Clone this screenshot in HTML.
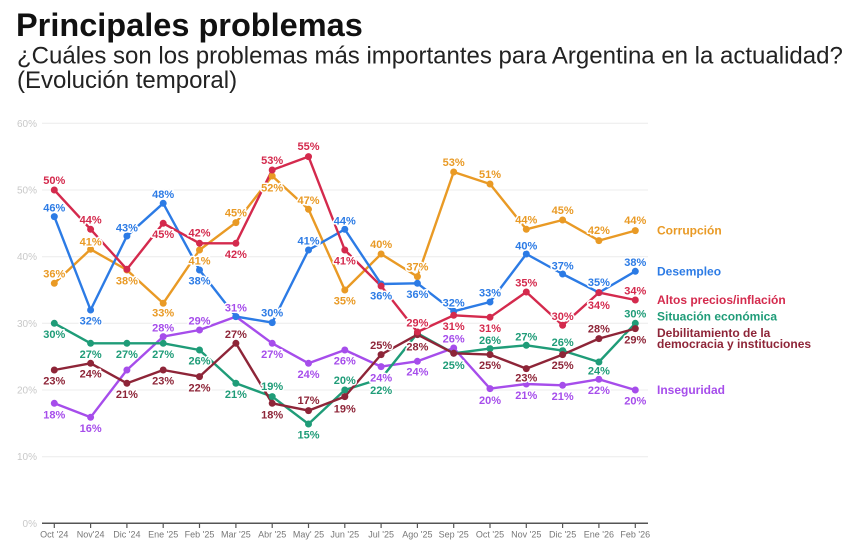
<!DOCTYPE html>
<html><head><meta charset="utf-8"><style>
html,body{margin:0;padding:0;background:#fff;}
body{width:862px;height:549px;overflow:hidden;position:relative;font-family:"Liberation Sans",sans-serif;}
svg{position:absolute;left:0;top:0;}
</style></head><body>
<svg width="862" height="549" viewBox="0 0 862 549" xmlns="http://www.w3.org/2000/svg" font-family="Liberation Sans, sans-serif">
<text x="16" y="36" font-size="32.5" font-weight="bold" fill="#111">Principales problemas</text>
<text x="17" y="63.5" font-size="24" fill="#222">¿Cuáles son los problemas más importantes para Argentina en la actualidad?</text>
<text x="17" y="88" font-size="24" fill="#222">(Evolución temporal)</text>

<g stroke="#ececec" stroke-width="1">
<line x1="42" x2="648" y1="123.3" y2="123.3"/>
<line x1="42" x2="648" y1="190" y2="190"/>
<line x1="42" x2="648" y1="256.7" y2="256.7"/>
<line x1="42" x2="648" y1="323.3" y2="323.3"/>
<line x1="42" x2="648" y1="390" y2="390"/>
<line x1="42" x2="648" y1="456.7" y2="456.7"/>
</g>
<g font-size="10" fill="#c8c8c8" text-anchor="end">
<text x="37" y="127">60%</text>
<text x="37" y="193.5">50%</text>
<text x="37" y="260.2">40%</text>
<text x="37" y="327">30%</text>
<text x="37" y="393.5">20%</text>
<text x="37" y="460.2">10%</text>
<text x="37" y="527">0%</text>
</g>
<line x1="42" x2="648" y1="523.3" y2="523.3" stroke="#555" stroke-width="1.5"/>
<g stroke="#555" stroke-width="1.2">
<line x1="54.3" x2="54.3" y1="523" y2="528"/><line x1="90.6" x2="90.6" y1="523" y2="528"/><line x1="126.9" x2="126.9" y1="523" y2="528"/><line x1="163.2" x2="163.2" y1="523" y2="528"/><line x1="199.5" x2="199.5" y1="523" y2="528"/><line x1="235.9" x2="235.9" y1="523" y2="528"/><line x1="272.2" x2="272.2" y1="523" y2="528"/><line x1="308.5" x2="308.5" y1="523" y2="528"/><line x1="344.8" x2="344.8" y1="523" y2="528"/><line x1="381.1" x2="381.1" y1="523" y2="528"/><line x1="417.4" x2="417.4" y1="523" y2="528"/><line x1="453.7" x2="453.7" y1="523" y2="528"/><line x1="490" x2="490" y1="523" y2="528"/><line x1="526.3" x2="526.3" y1="523" y2="528"/><line x1="562.6" x2="562.6" y1="523" y2="528"/><line x1="598.9" x2="598.9" y1="523" y2="528"/><line x1="635.3" x2="635.3" y1="523" y2="528"/>
</g>
<g font-size="9" fill="#777" text-anchor="middle">
<text x="54.3" y="537.5">Oct '24</text><text x="90.6" y="537.5">Nov'24</text><text x="126.9" y="537.5">Dic '24</text><text x="163.2" y="537.5">Ene '25</text><text x="199.5" y="537.5">Feb '25</text><text x="235.9" y="537.5">Mar '25</text><text x="272.2" y="537.5">Abr '25</text><text x="308.5" y="537.5">May' 25</text><text x="344.8" y="537.5">Jun '25</text><text x="381.1" y="537.5">Jul '25</text><text x="417.4" y="537.5">Ago '25</text><text x="453.7" y="537.5">Sep '25</text><text x="490" y="537.5">Oct '25</text><text x="526.3" y="537.5">Nov '25</text><text x="562.6" y="537.5">Dic '25</text><text x="598.9" y="537.5">Ene '26</text><text x="635.3" y="537.5">Feb '26</text>
</g>

<g fill="none" stroke-width="2.4" stroke-linejoin="round" stroke-linecap="round">
<polyline stroke="#A64DEB" points="54.3,403.3 90.6,417.3 126.9,370 163.2,336.6 199.5,330 235.9,316.6 272.2,343.3 308.5,363.3 344.8,350 381.1,366.6 417.4,361.3 453.7,348 490,388.6 526.3,384 562.6,385.3 598.9,379.3 635.3,390"/>
<polyline stroke="#1F9C78" points="54.3,323.3 90.6,343.3 126.9,343.3 163.2,343.3 199.5,350 235.9,383.3 272.2,396.6 308.5,424 344.8,390 381.1,378.6 417.4,333.3 453.7,353.3 490,348.6 526.3,345.3 562.6,350.6 598.9,362 635.3,323.3"/>
<polyline stroke="#8E2538" points="54.3,370 90.6,363.3 126.9,383.3 163.2,370 199.5,376.6 235.9,343.3 272.2,403.3 308.5,410.6 344.8,396.6 381.1,354.6 417.4,334.6 453.7,353.3 490,354.6 526.3,368.6 562.6,354.6 598.9,338.6 635.3,328.6"/>
<polyline stroke="#E99A25" points="54.3,283.3 90.6,249.3 126.9,270 163.2,303.3 199.5,250 235.9,222.6 272.2,176 308.5,209.3 344.8,290 381.1,254 417.4,276.6 453.7,172 490,184 526.3,229.3 562.6,220 598.9,240.6 635.3,230.6"/>
<polyline stroke="#2C7BE5" points="54.3,216.6 90.6,310 126.9,236 163.2,203.3 199.5,270 235.9,316.6 272.2,322.6 308.5,250 344.8,229.3 381.1,284 417.4,283.3 453.7,311.3 490,302 526.3,254 562.6,274 598.9,292.6 635.3,271.3"/>
<polyline stroke="#D42A4D" points="54.3,190 90.6,229.3 126.9,269.3 163.2,223.3 199.5,243.3 235.9,243.3 272.2,170 308.5,156.6 344.8,250 381.1,286 417.4,332 453.7,315.3 490,317.3 526.3,292 562.6,325.3 598.9,292.6 635.3,300"/>
</g>

<g fill="#A64DEB"><circle cx="54.3" cy="403.3" r="3.5"/><circle cx="90.6" cy="417.3" r="3.5"/><circle cx="126.9" cy="370" r="3.5"/><circle cx="163.2" cy="336.6" r="3.5"/><circle cx="199.5" cy="330" r="3.5"/><circle cx="235.9" cy="316.6" r="3.5"/><circle cx="272.2" cy="343.3" r="3.5"/><circle cx="308.5" cy="363.3" r="3.5"/><circle cx="344.8" cy="350" r="3.5"/><circle cx="381.1" cy="366.6" r="3.5"/><circle cx="417.4" cy="361.3" r="3.5"/><circle cx="453.7" cy="348" r="3.5"/><circle cx="490" cy="388.6" r="3.5"/><circle cx="526.3" cy="384" r="3.5"/><circle cx="562.6" cy="385.3" r="3.5"/><circle cx="598.9" cy="379.3" r="3.5"/><circle cx="635.3" cy="390" r="3.5"/></g>
<g fill="#1F9C78"><circle cx="54.3" cy="323.3" r="3.5"/><circle cx="90.6" cy="343.3" r="3.5"/><circle cx="126.9" cy="343.3" r="3.5"/><circle cx="163.2" cy="343.3" r="3.5"/><circle cx="199.5" cy="350" r="3.5"/><circle cx="235.9" cy="383.3" r="3.5"/><circle cx="272.2" cy="396.6" r="3.5"/><circle cx="308.5" cy="424" r="3.5"/><circle cx="344.8" cy="390" r="3.5"/><circle cx="381.1" cy="378.6" r="3.5"/><circle cx="417.4" cy="333.3" r="3.5"/><circle cx="453.7" cy="353.3" r="3.5"/><circle cx="490" cy="348.6" r="3.5"/><circle cx="526.3" cy="345.3" r="3.5"/><circle cx="562.6" cy="350.6" r="3.5"/><circle cx="598.9" cy="362" r="3.5"/><circle cx="635.3" cy="323.3" r="3.5"/></g>
<g fill="#8E2538"><circle cx="54.3" cy="370" r="3.5"/><circle cx="90.6" cy="363.3" r="3.5"/><circle cx="126.9" cy="383.3" r="3.5"/><circle cx="163.2" cy="370" r="3.5"/><circle cx="199.5" cy="376.6" r="3.5"/><circle cx="235.9" cy="343.3" r="3.5"/><circle cx="272.2" cy="403.3" r="3.5"/><circle cx="308.5" cy="410.6" r="3.5"/><circle cx="344.8" cy="396.6" r="3.5"/><circle cx="381.1" cy="354.6" r="3.5"/><circle cx="417.4" cy="334.6" r="3.5"/><circle cx="453.7" cy="353.3" r="3.5"/><circle cx="490" cy="354.6" r="3.5"/><circle cx="526.3" cy="368.6" r="3.5"/><circle cx="562.6" cy="354.6" r="3.5"/><circle cx="598.9" cy="338.6" r="3.5"/><circle cx="635.3" cy="328.6" r="3.5"/></g>
<g fill="#E99A25"><circle cx="54.3" cy="283.3" r="3.5"/><circle cx="90.6" cy="249.3" r="3.5"/><circle cx="126.9" cy="270" r="3.5"/><circle cx="163.2" cy="303.3" r="3.5"/><circle cx="199.5" cy="250" r="3.5"/><circle cx="235.9" cy="222.6" r="3.5"/><circle cx="272.2" cy="176" r="3.5"/><circle cx="308.5" cy="209.3" r="3.5"/><circle cx="344.8" cy="290" r="3.5"/><circle cx="381.1" cy="254" r="3.5"/><circle cx="417.4" cy="276.6" r="3.5"/><circle cx="453.7" cy="172" r="3.5"/><circle cx="490" cy="184" r="3.5"/><circle cx="526.3" cy="229.3" r="3.5"/><circle cx="562.6" cy="220" r="3.5"/><circle cx="598.9" cy="240.6" r="3.5"/><circle cx="635.3" cy="230.6" r="3.5"/></g>
<g fill="#2C7BE5"><circle cx="54.3" cy="216.6" r="3.5"/><circle cx="90.6" cy="310" r="3.5"/><circle cx="126.9" cy="236" r="3.5"/><circle cx="163.2" cy="203.3" r="3.5"/><circle cx="199.5" cy="270" r="3.5"/><circle cx="235.9" cy="316.6" r="3.5"/><circle cx="272.2" cy="322.6" r="3.5"/><circle cx="308.5" cy="250" r="3.5"/><circle cx="344.8" cy="229.3" r="3.5"/><circle cx="381.1" cy="284" r="3.5"/><circle cx="417.4" cy="283.3" r="3.5"/><circle cx="453.7" cy="311.3" r="3.5"/><circle cx="490" cy="302" r="3.5"/><circle cx="526.3" cy="254" r="3.5"/><circle cx="562.6" cy="274" r="3.5"/><circle cx="598.9" cy="292.6" r="3.5"/><circle cx="635.3" cy="271.3" r="3.5"/></g>
<g fill="#D42A4D"><circle cx="54.3" cy="190" r="3.5"/><circle cx="90.6" cy="229.3" r="3.5"/><circle cx="126.9" cy="269.3" r="3.5"/><circle cx="163.2" cy="223.3" r="3.5"/><circle cx="199.5" cy="243.3" r="3.5"/><circle cx="235.9" cy="243.3" r="3.5"/><circle cx="272.2" cy="170" r="3.5"/><circle cx="308.5" cy="156.6" r="3.5"/><circle cx="344.8" cy="250" r="3.5"/><circle cx="381.1" cy="286" r="3.5"/><circle cx="417.4" cy="332" r="3.5"/><circle cx="453.7" cy="315.3" r="3.5"/><circle cx="490" cy="317.3" r="3.5"/><circle cx="526.3" cy="292" r="3.5"/><circle cx="562.6" cy="325.3" r="3.5"/><circle cx="598.9" cy="292.6" r="3.5"/><circle cx="635.3" cy="300" r="3.5"/></g>

<g font-size="11" font-weight="bold" text-anchor="middle" stroke="#fff" stroke-width="3" paint-order="stroke" stroke-linejoin="round">
<g fill="#E99A25">
<text x="54.3" y="277.3">36%</text><text x="90.6" y="245.7">41%</text><text x="126.9" y="284.7">38%</text><text x="163.2" y="316.7">33%</text><text x="199.5" y="264.7">41%</text><text x="235.9" y="216.7">45%</text><text x="272.2" y="191.3">52%</text><text x="308.5" y="204">47%</text><text x="344.8" y="304.7">35%</text><text x="381.1" y="248">40%</text><text x="417.4" y="270.7">37%</text><text x="453.7" y="166">53%</text><text x="490" y="178">51%</text><text x="526.3" y="223.3">44%</text><text x="562.6" y="214">45%</text><text x="598.9" y="234">42%</text><text x="635.3" y="224">44%</text>
</g>
<g fill="#2C7BE5">
<text x="54.3" y="211.7">46%</text><text x="90.6" y="324.7">32%</text><text x="126.9" y="231.3">43%</text><text x="163.2" y="198">48%</text><text x="199.5" y="284.7">38%</text><text x="272.2" y="316.7">30%</text><text x="308.5" y="244.7">41%</text><text x="344.8" y="224.7">44%</text><text x="381.1" y="299.3">36%</text><text x="417.4" y="298">36%</text><text x="453.7" y="306.7">32%</text><text x="490" y="296.7">33%</text><text x="526.3" y="249.3">40%</text><text x="562.6" y="269.3">37%</text><text x="598.9" y="286">35%</text><text x="635.3" y="266">38%</text>
</g>
<g fill="#D42A4D">
<text x="54.3" y="184">50%</text><text x="90.6" y="223.3">44%</text><text x="163.2" y="238">45%</text><text x="199.5" y="236.7">42%</text><text x="235.9" y="258">42%</text><text x="272.2" y="164">53%</text><text x="308.5" y="150">55%</text><text x="344.8" y="264.7">41%</text><text x="417.4" y="326.7">29%</text><text x="453.7" y="330">31%</text><text x="490" y="332">31%</text><text x="526.3" y="286.7">35%</text><text x="562.6" y="320">30%</text><text x="598.9" y="309">34%</text><text x="635.3" y="294.7">34%</text>
</g>
<g fill="#1F9C78">
<text x="54.3" y="338">30%</text><text x="90.6" y="358">27%</text><text x="126.9" y="358">27%</text><text x="163.2" y="358">27%</text><text x="199.5" y="364.7">26%</text><text x="235.9" y="398">21%</text><text x="272.2" y="390">19%</text><text x="308.5" y="438.7">15%</text><text x="344.8" y="384">20%</text><text x="381.1" y="394">22%</text><text x="453.7" y="369">25%</text><text x="490" y="344">26%</text><text x="526.3" y="340.7">27%</text><text x="562.6" y="346">26%</text><text x="598.9" y="374.7">24%</text><text x="635.3" y="317.3">30%</text>
</g>
<g fill="#8E2538">
<text x="54.3" y="384.7">23%</text><text x="90.6" y="377.3">24%</text><text x="126.9" y="398">21%</text><text x="163.2" y="384.7">23%</text><text x="199.5" y="391.3">22%</text><text x="235.9" y="338">27%</text><text x="272.2" y="418.7">18%</text><text x="308.5" y="404">17%</text><text x="344.8" y="412.3">19%</text><text x="381.1" y="349">25%</text><text x="417.4" y="350.7">28%</text><text x="490" y="369">25%</text><text x="526.3" y="381.3">23%</text><text x="562.6" y="369">25%</text><text x="598.9" y="332.3">28%</text><text x="635.3" y="343.3">29%</text>
</g>
<g fill="#A64DEB">
<text x="54.3" y="418.7">18%</text><text x="90.6" y="432">16%</text><text x="163.2" y="331.3">28%</text><text x="199.5" y="324.7">29%</text><text x="235.9" y="311.3">31%</text><text x="272.2" y="358">27%</text><text x="308.5" y="378">24%</text><text x="344.8" y="364.7">26%</text><text x="381.1" y="381.3">24%</text><text x="417.4" y="375.7">24%</text><text x="453.7" y="342.3">26%</text><text x="490" y="404">20%</text><text x="526.3" y="399">21%</text><text x="562.6" y="400">21%</text><text x="598.9" y="394">22%</text><text x="635.3" y="404.7">20%</text>
</g>
</g>

<g font-size="12" font-weight="bold">
<text x="657" y="234.5" fill="#E99A25">Corrupción</text>
<text x="657" y="275.5" fill="#2C7BE5">Desempleo</text>
<text x="657" y="303.8" fill="#D42A4D">Altos precios/inflación</text>
<text x="657" y="320.5" fill="#1F9C78">Situación económica</text>
<text x="657" y="337" fill="#8E2538">Debilitamiento de la</text>
<text x="657" y="347.8" fill="#8E2538">democracia y instituciones</text>
<text x="657" y="393.8" fill="#A64DEB">Inseguridad</text>
</g>
</svg>
</body></html>
